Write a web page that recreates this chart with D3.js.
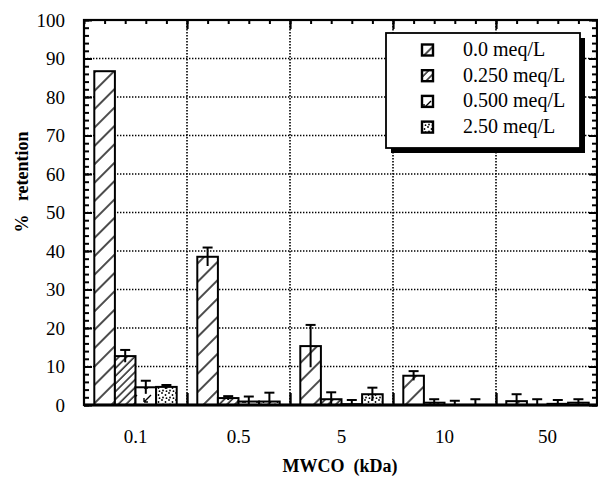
<!DOCTYPE html>
<html>
<head>
<meta charset="utf-8">
<script src="https://cdn.jsdelivr.net/npm/d3@7"></script>
<style>
  body { margin: 0; background: #fff; }
  text { font-family: "Liberation Serif", "Times New Roman", serif; fill: #000; }
</style>
</head>
<body>
<div id="chart-div"></div>
<script>
// data
var categories = ["0.1", "0.5", "5", "10", "50"];
var seriesNames = ["0.0 meq/L", "0.250 meq/L", "0.500 meq/L", "2.50 meq/L"];
var values0 = [86.7, 38.5, 15.3, 7.6, 1.0];
var errors0 = [0, 2.4, 5.5, 1.2, 1.8];
var values250 = [12.7, 1.8, 1.5, 0.6, 0];
var errors250 = [1.6, 0.5, 1.8, 0.9, 1.5];
var values500 = [4.6, 0.9, 0.2, 0, 0.3];
var errors500 = [1.7, 1.3, 1.1, 1.1, 1.0];
var values2500 = [4.7, 0.9, 2.8, 0, 0.6];
var errors2500 = [0.5, 2.3, 1.7, 1.5, 0.9];
var yTicks = [0, 10, 20, 30, 40, 50, 60, 70, 80, 90, 100];

var allValues = [values0, values250, values500, values2500];
var allErrors = [errors0, errors250, errors500, errors2500];
var fills = ["url(#hatchWide)", "url(#hatchDense)", "url(#marks)", "url(#dots)"];

function drawChart() {
    var svgWidth = 598;
    var svgHeight = 477;
    var left = 84, right = 598, top = 20, bottom = 405;

    var svg = d3.select('#chart-div').append("svg")
        .attr('width', svgWidth)
        .attr('height', svgHeight);

    // fill patterns
    var defs = svg.append("defs");
    defs.append("pattern").attr("id", "hatchWide")
        .attr("patternUnits", "userSpaceOnUse")
        .attr("width", 13).attr("height", 13)
        .attr("patternTransform", "rotate(45)")
        .append("line")
        .attr("x1", 1).attr("y1", 0).attr("x2", 1).attr("y2", 13)
        .attr("stroke", "#000").attr("stroke-width", 1.4);
    defs.append("pattern").attr("id", "hatchDense")
        .attr("patternUnits", "userSpaceOnUse")
        .attr("width", 5.5).attr("height", 5.5)
        .attr("patternTransform", "rotate(45)")
        .append("line")
        .attr("x1", 1).attr("y1", 0).attr("x2", 1).attr("y2", 5.5)
        .attr("stroke", "#000").attr("stroke-width", 1.3);
    var mk = defs.append("pattern").attr("id", "marks")
        .attr("patternUnits", "userSpaceOnUse")
        .attr("width", 14).attr("height", 14);
    mk.append("path").attr("d", "M11,3 L4,10 M4,10 L4,6 M4,10 L8,10")
        .attr("stroke", "#000").attr("stroke-width", 1.4).attr("fill", "none");
    var dt = defs.append("pattern").attr("id", "dots")
        .attr("patternUnits", "userSpaceOnUse")
        .attr("width", 7).attr("height", 7);
    [[1, 1], [4.5, 3], [2, 5.5], [5.5, 6.2]].forEach(function (p) {
        dt.append("circle").attr("cx", p[0]).attr("cy", p[1]).attr("r", 0.9).attr("fill", "#000");
    });

    var y = d3.scaleLinear().domain([0, 100]).range([bottom, top]);
    var x = d3.scaleBand().domain(categories).range([left, left + 103 * 5]).paddingInner(0).paddingOuter(0);
    var xLin = d3.scaleLinear().domain([0, 5]).range([left, left + 103 * 5]);
    var xSub = d3.scaleBand().domain(d3.range(4)).range([0, x.bandwidth()]).paddingOuter(0.5).paddingInner(0);

    // grid
    svg.append("g").selectAll("line")
        .data(yTicks.slice(1, -1))
        .enter().append("line")
        .attr("x1", left).attr("x2", right)
        .attr("y1", function (d) { return y(d); })
        .attr("y2", function (d) { return y(d); })
        .attr("stroke", "#000").attr("stroke-width", 1.6)
        .attr("stroke-dasharray", "1.4,1.6");
    svg.append("g").selectAll("line")
        .data([1, 2, 3, 4])
        .enter().append("line")
        .attr("x1", function (d) { return xLin(d); })
        .attr("x2", function (d) { return xLin(d); })
        .attr("y1", top).attr("y2", bottom)
        .attr("stroke", "#000").attr("stroke-width", 1.6)
        .attr("stroke-dasharray", "1.4,1.6");

    // bars
    allValues.forEach(function (vals, s) {
        var g = svg.append("g");
        g.selectAll("rect")
            .data(vals)
            .enter().append("rect")
            .attr("x", function (d, i) { return x(categories[i]) + xSub(s); })
            .attr("y", function (d) { return y(d); })
            .attr("width", xSub.bandwidth())
            .attr("height", function (d) { return y(0) - y(d); })
            .attr("fill", "#fff");
        g.selectAll("rect.pat")
            .data(vals)
            .enter().append("rect")
            .attr("class", "pat")
            .attr("x", function (d, i) { return x(categories[i]) + xSub(s); })
            .attr("y", function (d) { return y(d); })
            .attr("width", xSub.bandwidth())
            .attr("height", function (d) { return y(0) - y(d); })
            .attr("fill", fills[s])
            .attr("stroke", "#000")
            .attr("stroke-width", 2);

        // error bars, cap only on top
        var errs = allErrors[s];
        var eg = svg.append("g").attr("stroke", "#000").attr("stroke-width", 2);
        vals.forEach(function (v, i) {
            if (!errs[i]) return;
            var cx = x(categories[i]) + xSub(s) + xSub.bandwidth() / 2;
            eg.append("line")
                .attr("x1", cx).attr("x2", cx)
                .attr("y1", y(Math.max(0, v - errs[i]))).attr("y2", y(v + errs[i]));
            eg.append("line")
                .attr("x1", cx - 5).attr("x2", cx + 5)
                .attr("y1", y(v + errs[i])).attr("y2", y(v + errs[i]));
        });
    });

    // left axis with labels
    svg.append("g")
        .attr("transform", "translate(" + left + ",0)")
        .call(d3.axisLeft(y).tickValues(d3.range(0, 101, 2)).tickSize(-5).tickFormat(""))
        .call(function (g) { g.select(".domain").remove(); })
        .selectAll("line").attr("stroke-width", 2);
    var yAxis = svg.append("g")
        .attr("transform", "translate(" + left + ",0)")
        .call(d3.axisLeft(y).tickValues(yTicks).tickSize(-8).tickPadding(19));
    yAxis.select(".domain").remove();
    yAxis.selectAll("line").attr("stroke-width", 2);
    yAxis.selectAll("text")
        .style("font-family", "Liberation Serif")
        .style("font-size", "19px")
        .attr("dy", "0.34em");

    // right axis
    svg.append("g")
        .attr("transform", "translate(" + (right - 1) + ",0)")
        .call(d3.axisRight(y).tickValues(d3.range(0, 101, 2)).tickSize(-5).tickFormat(""))
        .call(function (g) { g.select(".domain").remove(); })
        .selectAll("line").attr("stroke-width", 2);
    svg.append("g")
        .attr("transform", "translate(" + (right - 1) + ",0)")
        .call(d3.axisRight(y).tickValues(yTicks).tickSize(-8).tickFormat(""))
        .call(function (g) { g.select(".domain").remove(); })
        .selectAll("line").attr("stroke-width", 2);

    // top axis ticks
    svg.append("g")
        .attr("transform", "translate(0," + top + ")")
        .call(d3.axisTop(xLin).tickValues(d3.range(0, 5.01, 0.2)).tickSize(-4).tickFormat(""))
        .call(function (g) { g.select(".domain").remove(); })
        .selectAll("line").attr("stroke-width", 2);
    svg.append("g")
        .attr("transform", "translate(0," + top + ")")
        .call(d3.axisTop(xLin).tickValues([1, 2, 3, 4]).tickSize(-9).tickFormat(""))
        .call(function (g) { g.select(".domain").remove(); })
        .selectAll("line").attr("stroke-width", 2.2);

    // bottom axis
    svg.append("g")
        .attr("transform", "translate(0," + bottom + ")")
        .call(d3.axisBottom(xLin).tickValues([1, 2, 3, 4]).tickSize(-12).tickFormat(""))
        .call(function (g) { g.select(".domain").remove(); })
        .selectAll("line").attr("stroke-width", 2.4);
    var xAxis = svg.append("g")
        .attr("transform", "translate(0," + bottom + ")")
        .call(d3.axisBottom(x).tickSize(0).tickPadding(25));
    xAxis.select(".domain").remove();
    xAxis.selectAll("text")
        .style("font-family", "Liberation Serif")
        .style("font-size", "19px");

    // frame
    svg.append("rect")
        .attr("x", left).attr("y", top)
        .attr("width", right - 1 - left).attr("height", bottom - top)
        .attr("fill", "none").attr("stroke", "#000").attr("stroke-width", 2.2);
    svg.append("line")
        .attr("x1", left).attr("x2", right)
        .attr("y1", bottom).attr("y2", bottom)
        .attr("stroke", "#000").attr("stroke-width", 3);

    // legend with drop shadow
    var lg = svg.append("g");
    lg.append("rect").attr("x", 391).attr("y", 38).attr("width", 194).attr("height", 115).attr("fill", "#000");
    lg.append("rect").attr("x", 386).attr("y", 33).attr("width", 194).attr("height", 115)
        .attr("fill", "#fff").attr("stroke", "#000").attr("stroke-width", 1.8);
    seriesNames.forEach(function (name, s) {
        var cy = 50 + s * 25.7;
        lg.append("rect").attr("x", 422).attr("y", cy - 5.5).attr("width", 11).attr("height", 11)
            .attr("fill", "#fff");
        lg.append("rect").attr("x", 422).attr("y", cy - 5.5).attr("width", 11).attr("height", 11)
            .attr("fill", fills[s]).attr("stroke", "#000").attr("stroke-width", 2.4);
        lg.append("text").attr("x", 463).attr("y", cy + 6)
            .style("font-size", "20px")
            .text(name);
    });

    // axis titles
    svg.append("text")
        .attr("x", 340).attr("y", 472)
        .attr("text-anchor", "middle")
        .style("font-size", "18px").style("font-weight", "bold")
        .style("white-space", "pre")
        .text("MWCO  (kDa)");
    svg.append("text")
        .attr("transform", "translate(28,182) rotate(-90)")
        .attr("text-anchor", "middle")
        .style("font-size", "18px").style("font-weight", "bold")
        .style("white-space", "pre")
        .text("%   retention");
}

drawChart();
</script>
</body>
</html>
